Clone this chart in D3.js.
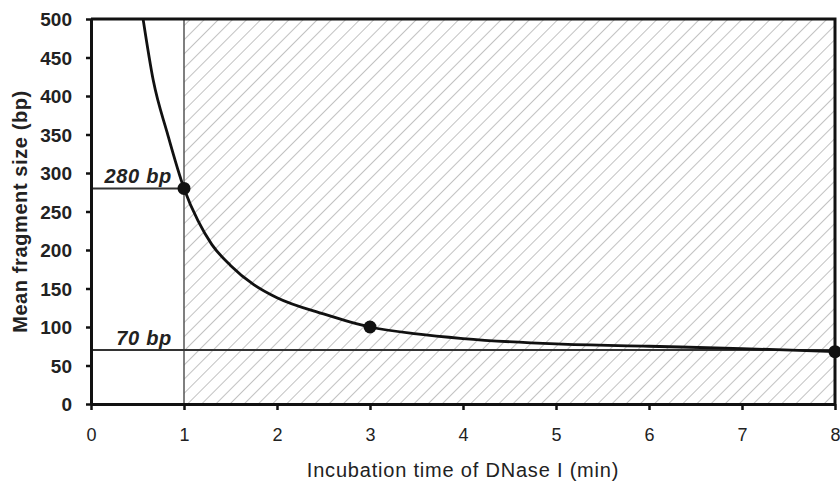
<!DOCTYPE html>
<html>
<head>
<meta charset="utf-8">
<script src="https://cdn.jsdelivr.net/npm/d3@7"></script>
<style>
  body { margin: 0; background: #fff; }
  text { font-family: "Liberation Sans", Arial, sans-serif; fill: #222; }
</style>
</head>
<body>
<div id="chart"></div>
<script>
// data
var curveX = [0.56, 0.67, 0.82, 1, 1.15, 1.3, 1.5, 1.75, 2, 2.5, 3, 3.5, 4, 5, 6, 7, 8];
var curveY = [500, 420, 352, 280, 238, 207, 180, 155, 138, 117, 100, 91, 85, 78, 75, 72, 68];
var pointX = [1, 3, 8];
var pointY = [280, 100, 68];
var xTicks = [0, 1, 2, 3, 4, 5, 6, 7, 8];
var yTicks = [0, 50, 100, 150, 200, 250, 300, 350, 400, 450, 500];
var refLabels = ["280 bp", "70 bp"];
var refY = [280, 70];
var refXEnd = [1, 8];
var cutoffX = 1;

var svgWidth = 840;
var svgHeight = 485;
var margin = { top: 19, right: 5, bottom: 81, left: 91 };
var chartWidth = svgWidth - margin.left - margin.right;
var chartHeight = svgHeight - margin.top - margin.bottom;

var svg = d3.select('#chart')
  .append('svg')
  .attr('width', svgWidth)
  .attr('height', svgHeight);

var chartGroup = svg.append('g')
  .attr('transform', `translate(${margin.left},${margin.top})`);

var x = d3.scaleLinear().domain([0, 8]).range([0, chartWidth]);
var y = d3.scaleLinear().domain([0, 500]).range([chartHeight, 0]);

// hatch pattern
var defs = svg.append('defs');
var pat = defs.append('pattern')
  .attr('id', 'hatch')
  .attr('patternUnits', 'userSpaceOnUse')
  .attr('width', 10)
  .attr('height', 10)
  .attr('patternTransform', 'rotate(45)');
pat.append('line')
  .attr('x1', 0).attr('y1', 0)
  .attr('x2', 0).attr('y2', 10)
  .attr('stroke', '#a0a0a0')
  .attr('stroke-width', 1.3);

defs.append('clipPath').attr('id', 'clip')
  .append('rect')
  .attr('width', chartWidth)
  .attr('height', chartHeight);

chartGroup.append('rect')
  .attr('x', x(cutoffX))
  .attr('y', y(500))
  .attr('width', x(8) - x(cutoffX))
  .attr('height', y(0) - y(500))
  .attr('fill', 'url(#hatch)');

// reference lines
chartGroup.append('line')
  .attr('x1', x(cutoffX)).attr('x2', x(cutoffX))
  .attr('y1', y(0)).attr('y2', y(500))
  .attr('stroke', '#555')
  .attr('stroke-width', 1.5);

refY.forEach(function(v, i) {
  chartGroup.append('line')
    .attr('x1', x(0)).attr('x2', x(refXEnd[i]))
    .attr('y1', y(v)).attr('y2', y(v))
    .attr('stroke', '#333')
    .attr('stroke-width', 2);
  chartGroup.append('text')
    .attr('x', x(cutoffX) - 12)
    .attr('y', y(v) - 5)
    .attr('text-anchor', 'end')
    .attr('font-size', '20px')
    .attr('font-weight', 'bold')
    .attr('font-style', 'italic')
    .attr('letter-spacing', '0.7px')
    .text(refLabels[i]);
});

// curve
var data = curveX.map(function(d, i) { return [d, curveY[i]]; });
var line = d3.line()
  .x(d => x(d[0]))
  .y(d => y(d[1]))
  .curve(d3.curveMonotoneX);

chartGroup.append('path')
  .datum(data)
  .attr('clip-path', 'url(#clip)')
  .attr('d', line)
  .attr('fill', 'none')
  .attr('stroke', '#111')
  .attr('stroke-width', 2.8);

// frame (top and right)
chartGroup.append('path')
  .attr('d', `M${x(0)},${y(500)}H${x(8)}V${y(0)}`)
  .attr('fill', 'none')
  .attr('stroke', '#111')
  .attr('stroke-width', 3);

// axes
var bottomAxis = d3.axisBottom(x).tickValues(xTicks).tickSize(6).tickPadding(18).tickSizeOuter(0);
var leftAxis = d3.axisLeft(y).tickValues(yTicks).tickSize(5).tickPadding(14).tickSizeOuter(0);

var xAxis = chartGroup.append('g')
  .attr('transform', `translate(0,${chartHeight})`)
  .call(bottomAxis);
var yAxis = chartGroup.append('g')
  .call(leftAxis);

[xAxis, yAxis].forEach(function(a) {
  a.select('.domain').attr('stroke', '#111').attr('stroke-width', 3);
  a.selectAll('.tick line').attr('stroke', '#111').attr('stroke-width', 2.5);
  a.selectAll('.tick text')
    .attr('font-size', '18px')
    .attr('font-family', '"Liberation Sans", Arial, sans-serif')
    .attr('fill', '#222');
});
yAxis.selectAll('.tick text')
  .attr('font-size', '19px')
  .attr('font-weight', 'bold')
  .attr('dy', '0.36em');

// points
chartGroup.selectAll('circle')
  .data(pointX)
  .enter()
  .append('circle')
  .attr('cx', d => x(d))
  .attr('cy', (d, i) => y(pointY[i]))
  .attr('r', 6.5)
  .attr('fill', '#111');

// axis titles
chartGroup.append('text')
  .attr('x', chartWidth / 2)
  .attr('y', chartHeight + 73)
  .attr('text-anchor', 'middle')
  .attr('font-size', '20px')
  .attr('letter-spacing', '0.8px')
  .text('Incubation time of DNase I (min)');

chartGroup.append('text')
  .attr('transform', `translate(${-64},${chartHeight / 2}) rotate(-90)`)
  .attr('text-anchor', 'middle')
  .attr('font-size', '20px')
  .attr('font-weight', 'bold')
  .attr('letter-spacing', '0.6px')
  .text('Mean fragment size (bp)');
</script>
</body>
</html>
